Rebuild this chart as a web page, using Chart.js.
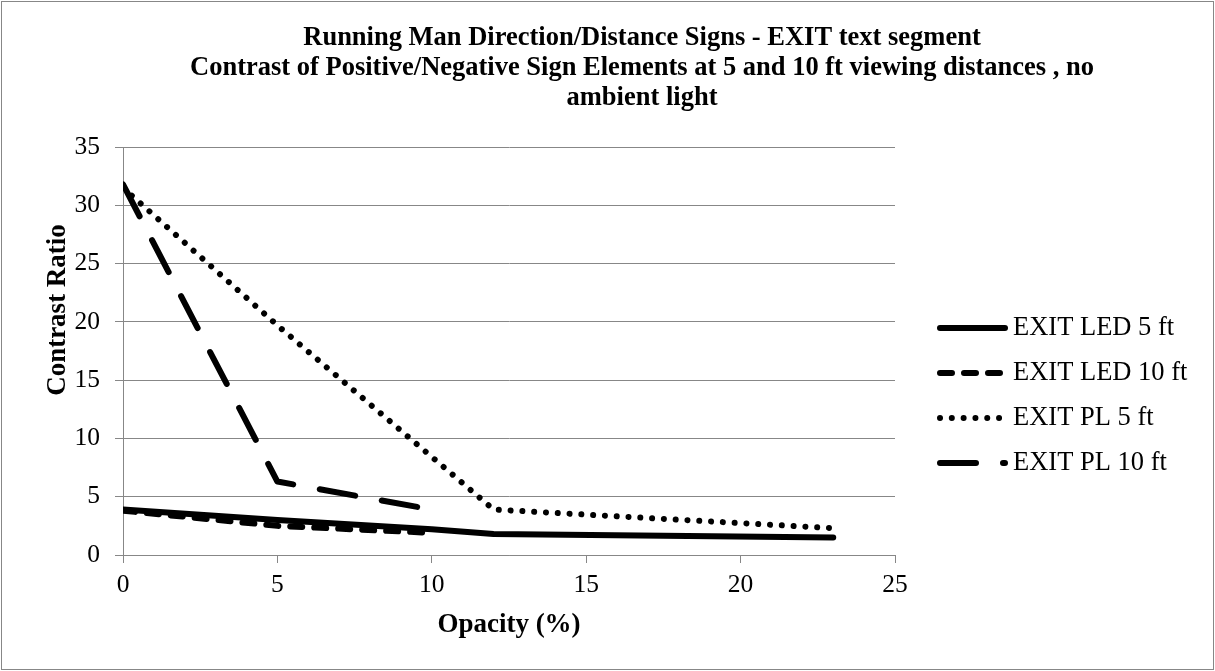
<!DOCTYPE html>
<html>
<head>
<meta charset="utf-8">
<script src="https://cdn.jsdelivr.net/npm/chart.js@4/dist/chart.umd.min.js"></script>
<style>
  body { margin: 0; background: #fff; }
  canvas { display: block; }
</style>
</head>
<body>
<canvas id="grafica" width="1215" height="671"></canvas>
<script>
// valores
const opacityLed5   = [0, 5, 10, 12, 23];
const contrastLed5  = [3.9, 3.0, 2.2, 1.8, 1.5];
const opacityLed10  = [0, 5, 10];
const contrastLed10 = [3.8, 2.5, 1.9];
const opacityPl5    = [0, 5, 12, 23];
const contrastPl5   = [31.5, 19.7, 3.9, 2.3];
const opacityPl10   = [0, 5, 10];
const contrastPl10  = [31.8, 6.3, 3.9];

const titulo = [
    'Running Man Direction/Distance Signs - EXIT text segment',
    'Contrast of Positive/Negative Sign Elements at 5 and 10 ft viewing distances , no',
    'ambient light'
];
const tituloY = 'Contrast Ratio';

const serif = "'Liberation Serif', 'Times New Roman', serif";

function puntos(xs, ys) {
    return xs.map((x, i) => ({ x: x, y: ys[i] }));
}

function serie(nombre, xs, ys, dash) {
    return {
        label: nombre,
        data: puntos(xs, ys),
        borderColor: '#000',
        borderWidth: 6,
        borderDash: dash,
        borderCapStyle: 'round',
        borderJoinStyle: 'round',
        pointRadius: 0,
        tension: 0,
        fill: false
    };
}

// titulo, borde, titulo del eje y y leyenda dibujados a mano
const extras = {
    id: 'extras',
    afterDraw(chart) {
        const ctx = chart.ctx;
        ctx.save();
        ctx.strokeStyle = '#878787';
        ctx.lineWidth = 1;
        ctx.strokeRect(1.5, 1.5, chart.width - 3, chart.height - 3);

        ctx.fillStyle = '#000';
        ctx.textAlign = 'center';
        ctx.textBaseline = 'middle';
        ctx.font = 'bold 26.5px ' + serif;
        titulo.forEach((t, i) => ctx.fillText(t, 642, 38 + i * 30));

        ctx.save();
        ctx.translate(58, 310);
        ctx.rotate(-Math.PI / 2);
        ctx.font = 'bold 27px ' + serif;
        ctx.fillText(tituloY, 0, 0);
        ctx.restore();

        ctx.font = '26.5px ' + serif;
        ctx.textAlign = 'left';
        chart.data.datasets.forEach((d, i) => {
            const y = 328 + i * 45;
            ctx.beginPath();
            ctx.lineWidth = d.borderWidth;
            ctx.lineCap = d.borderCapStyle;
            ctx.setLineDash(d.borderDash);
            ctx.strokeStyle = d.borderColor;
            ctx.moveTo(940, y);
            ctx.lineTo(1005, y);
            ctx.stroke();
            ctx.fillText(d.label, 1013, y);
        });
        ctx.restore();
    }
};

new Chart(document.getElementById('grafica'), {
    type: 'line',
    data: {
        datasets: [
            serie('EXIT LED 5 ft',  opacityLed5,  contrastLed5,  []),
            serie('EXIT LED 10 ft', opacityLed10, contrastLed10, [12, 12]),
            serie('EXIT PL 5 ft',   opacityPl5,   contrastPl5,   [0.01, 11.8]),
            serie('EXIT PL 10 ft',  opacityPl10,  contrastPl10,  [36, 27])
        ]
    },
    options: {
        responsive: false,
        animation: false,
        layout: { padding: { left: 0, top: 147, right: 320, bottom: 0 } },
        plugins: {
            legend: { display: false },
            title: { display: false },
            tooltip: { enabled: false }
        },
        scales: {
            x: {
                type: 'linear',
                min: 0,
                max: 25,
                ticks: { stepSize: 5, color: '#000', padding: 7, font: { family: serif, size: 25.5 } },
                grid: { drawOnChartArea: false, drawTicks: true, tickLength: 8, color: '#878787' },
                border: { color: '#878787' },
                title: {
                    display: true,
                    text: 'Opacity (%)',
                    color: '#000',
                    font: { family: serif, size: 27, weight: 'bold' },
                    padding: { top: 0, bottom: 30 }
                },
                afterFit(scale) { scale.height = 671 - 555; }
            },
            y: {
                min: 0,
                max: 35,
                ticks: { stepSize: 5, color: '#000', padding: 15, font: { family: serif, size: 25.5 } },
                grid: { color: '#878787', tickLength: 8 },
                border: { color: '#878787' },
                afterFit(scale) { scale.width = 123; }
            }
        }
    },
    plugins: [extras]
});
</script>
</body>
</html>
